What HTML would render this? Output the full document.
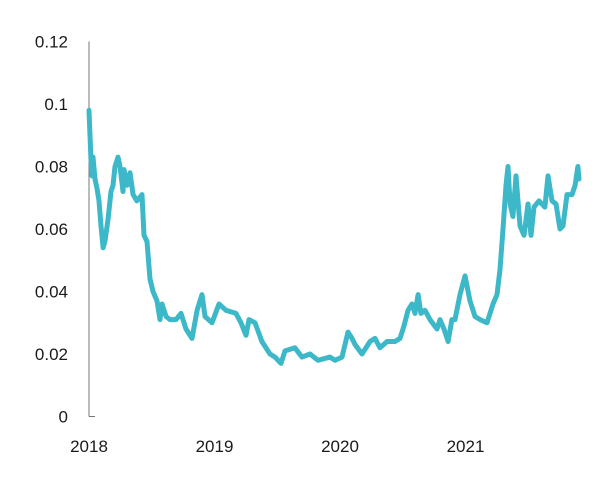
<!DOCTYPE html>
<html><head><meta charset="utf-8"><style>
html,body{margin:0;padding:0;background:#fff;}
svg text{font-family:"Liberation Sans",sans-serif;font-size:17px;fill:#1a1a1a;}
</style></head><body>
<svg id="chart" width="600" height="488" xmlns="http://www.w3.org/2000/svg">
<g id="axes"></g>
<g id="plot"></g>
</svg>
<script>
const yTicks=[0,0.02,0.04,0.06,0.08,0.1,0.12];
const yTickLabels=["0","0.02","0.04","0.06","0.08","0.1","0.12"];
const xTicks=[2018,2019,2020,2021];
const xTickLabels=["2018","2019","2020","2021"];
const years=[0,.016,.024,.032,.048,.064,.08,.096,.112,.127,.151,.175,.191,.207,.231,.247,.271,.279,.303,.327,.351,.382,.422,.438,.462,.486,.51,.542,.566,.582,.614,.645,.693,.733,.773,.821,.861,.9,.924,.98,1.036,1.092,1.171,1.211,1.251,1.275,1.323,1.378,1.442,1.482,1.53,1.562,1.641,1.697,1.761,1.825,1.92,1.96,2.016,2.064,2.096,2.12,2.175,2.239,2.279,2.319,2.375,2.438,2.478,2.51,2.542,2.574,2.598,2.622,2.645,2.677,2.717,2.773,2.797,2.829,2.861,2.892,2.916,2.956,2.996,3.036,3.076,3.116,3.171,3.219,3.251,3.275,3.299,3.323,3.339,3.355,3.378,3.402,3.434,3.466,3.498,3.522,3.546,3.586,3.633,3.657,3.689,3.721,3.753,3.777,3.809,3.849,3.873,3.896,3.904];
const values=[.098,.082,.077,.083,.076,.073,.069,.061,.054,.056,.063,.072,.074,.080,.083,.080,.072,.079,.074,.078,.071,.069,.071,.058,.056,.044,.040,.037,.031,.036,.032,.031,.031,.033,.028,.025,.034,.039,.032,.030,.036,.034,.033,.030,.026,.031,.030,.024,.020,.019,.017,.021,.022,.019,.020,.018,.019,.018,.019,.027,.025,.023,.020,.024,.025,.022,.024,.024,.025,.029,.034,.036,.033,.039,.033,.034,.031,.028,.031,.028,.024,.031,.031,.039,.045,.037,.032,.031,.030,.036,.039,.047,.060,.074,.080,.068,.064,.077,.061,.058,.068,.058,.067,.069,.067,.077,.069,.068,.060,.061,.071,.071,.074,.080,.076];

const NS="http://www.w3.org/2000/svg";
const x0=89,xPerYear=125.5,yBase=416.5,yPer=375/0.12;
function xs(yr){return x0+(yr-2018)*xPerYear;}
function ys(v){return yBase-v*yPer;}
const axes=document.getElementById('axes'),plot=document.getElementById('plot');
function mk(tag,attrs,parent){const e=document.createElementNS(NS,tag);for(const k in attrs)e.setAttribute(k,attrs[k]);parent.appendChild(e);return e;}

const yAxis=mk('line',{x1:x0,y1:ys(0.12),x2:x0,y2:yBase,stroke:'#777','stroke-width':1},axes);


const baseTick=mk('line',{x1:x0,y1:yBase,x2:x0+6,y2:yBase,stroke:'#777','stroke-width':1},axes);



yTicks.forEach((v,i)=>{
  const t=mk('text',{x:68,y:ys(v)+6,'text-anchor':'end'},axes);
  t.textContent=yTickLabels[i];
  
  
});
xTicks.forEach((yr,i)=>{
  const t=mk('text',{x:xs(yr),y:452,'text-anchor':'middle'},axes);
  t.textContent=xTickLabels[i];
  
  
});

const d=years.map((t,i)=>(i?'L':'M')+xs(2018+t).toFixed(1)+','+ys(values[i]).toFixed(1)).join(' ');
const line=mk('path',{d:d,fill:'none',stroke:'#3db8c9','stroke-width':5,'stroke-linejoin':'round','stroke-linecap':'round'},plot);


</script>
</body></html>
